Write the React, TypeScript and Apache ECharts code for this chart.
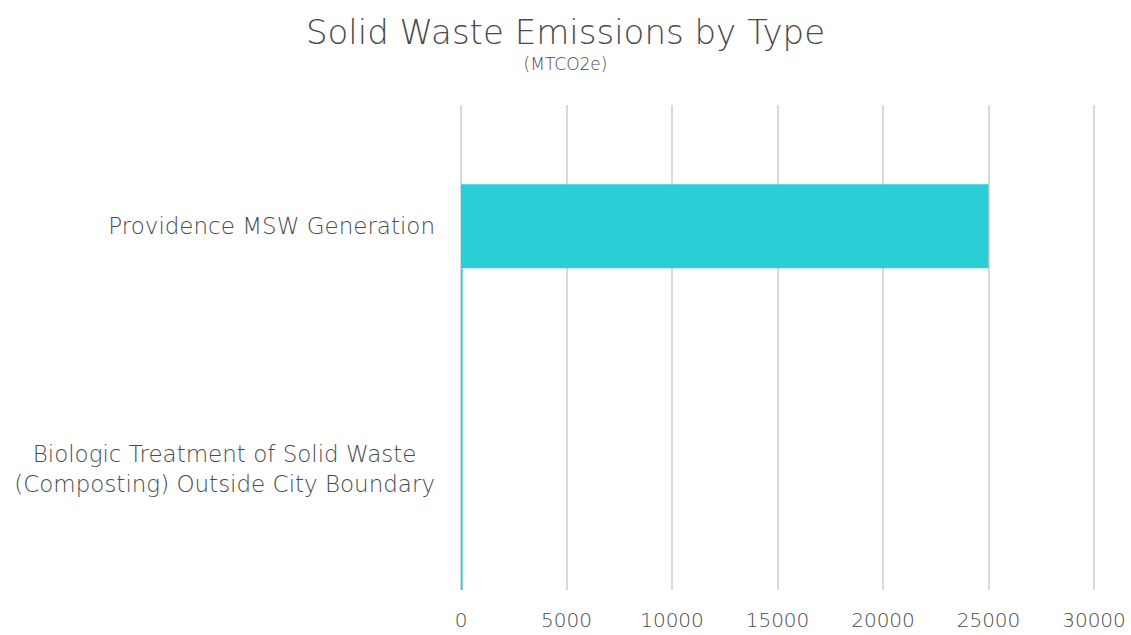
import React, { useEffect, useRef } from "react";
import * as echarts from "echarts";

const categories = [
  "Biologic Treatment of Solid Waste\n(Composting) Outside City Boundary",
  "Providence MSW Generation",
];
const mswValues = [null, 25000];
const biologicValues = [80, null];
const xTicks = { min: 0, max: 30000, interval: 5000 };

const FONT = "'DejaVu Sans', sans-serif";
const TEXT = "#4a4a4a";
const BAR = "#29CED6";

export default function App() {
  const ref = useRef<HTMLDivElement>(null);
  useEffect(() => {
    if (!ref.current) return;
    const chart = echarts.init(ref.current, null, { renderer: "svg" });
    chart.setOption({
      animation: false,
      title: {
        text: "Solid Waste Emissions by Type",
        subtext: "(MTCO2e)",
        left: "center",
        top: 10,
        itemGap: 6,
        textStyle: { fontFamily: FONT, fontSize: 34, fontWeight: 200, color: TEXT },
        subtextStyle: { fontFamily: FONT, fontSize: 17, fontWeight: 200, color: TEXT },
      },
      grid: { left: 461, right: 37, top: 105, bottom: 45 },
      xAxis: {
        type: "value",
        min: xTicks.min,
        max: xTicks.max,
        interval: xTicks.interval,
        axisLine: { show: false },
        axisTick: { show: false },
        splitLine: { lineStyle: { color: "#d9d9d9", width: 2 } },
        axisLabel: {
          fontFamily: FONT,
          fontSize: 20,
          fontWeight: 200,
          color: TEXT,
          margin: 20,
          formatter: (v: number) => String(v),
        },
      },
      yAxis: [
        {
          type: "category",
          data: categories,
          axisLine: { show: false },
          axisTick: { show: false },
          axisLabel: {
            fontFamily: FONT,
            fontSize: 23,
            fontWeight: 200,
            color: TEXT,
            margin: 26,
            lineHeight: 30,
            formatter: (v: string) =>
              v
                .split("\n")
                .map((l) => "{c|" + l + "}")
                .join("\n"),
            rich: {
              c: { align: "center", fontFamily: FONT, fontSize: 23, fontWeight: 200, color: TEXT, lineHeight: 30 },
            },
          },
        },
        {
          type: "category",
          data: categories,
          show: false,
        },
      ],
      series: [
        {
          type: "bar",
          yAxisIndex: 0,
          data: mswValues,
          barWidth: 84,
          itemStyle: { color: BAR },
        },
        {
          type: "bar",
          yAxisIndex: 1,
          data: biologicValues,
          barWidth: 400,
          clip: true,
          itemStyle: { color: BAR },
        },
      ],
    });
    return () => chart.dispose();
  }, []);
  return <div ref={ref} style={{ width: 1131, height: 635, position: "absolute", left: 0, top: 0 }} />;
}
